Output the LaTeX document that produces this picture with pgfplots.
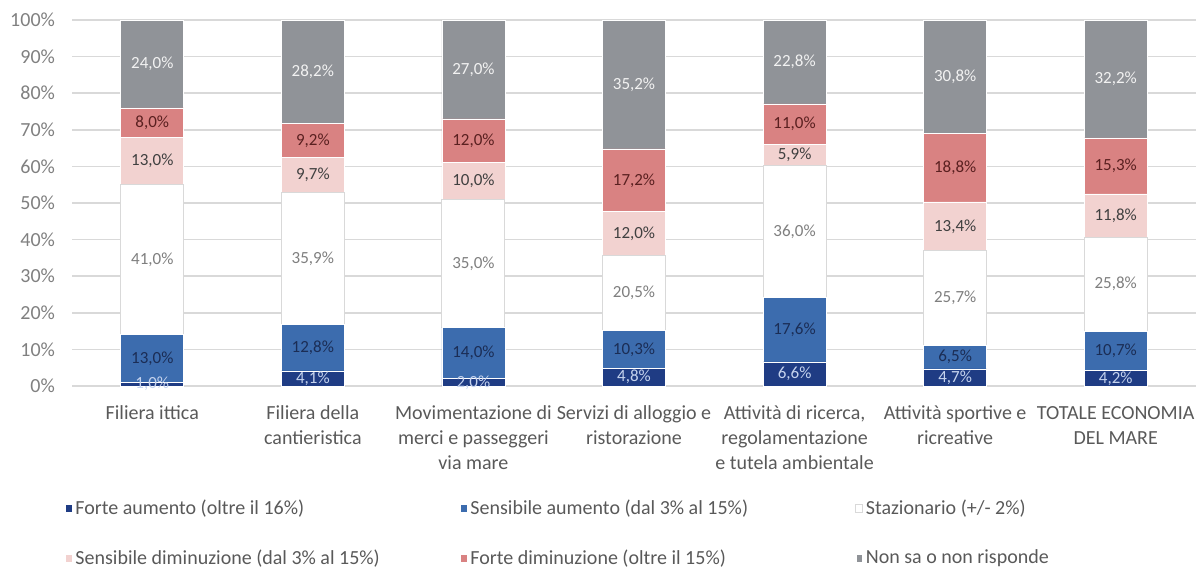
\documentclass[border=0pt]{standalone}
\usepackage{pgfplots}
\pgfplotsset{compat=1.18}
\usepackage{pgfplotstable}
\usepackage{fontspec}
\setmainfont{Carlito}
\definecolor{cNavy}{HTML}{1F3C84}
\definecolor{cBlue}{HTML}{3C6CAE}
\definecolor{cPink}{HTML}{F2D2D0}
\definecolor{cSalmon}{HTML}{D98282}
\definecolor{cGray}{HTML}{909398}
\definecolor{cGrid}{HTML}{D9D9D9}
\definecolor{cText}{HTML}{595959}
\definecolor{cTick}{HTML}{808080}
\definecolor{lA}{HTML}{C5D3EE}
\definecolor{lB}{HTML}{1B2D55}
\definecolor{lC}{HTML}{7F7F7F}
\definecolor{lD}{HTML}{404040}
\definecolor{lE}{HTML}{5A2020}
\definecolor{lF}{HTML}{F2F2F2}
\pgfplotstableread{
x a b c d e f
0 1.0 13.0 41.0 13.0 8.0 24.0
1 4.1 12.8 35.9 9.7 9.2 28.2
2 2.0 14.0 35.0 10.0 12.0 27.0
3 4.8 10.3 20.5 12.0 17.2 35.2
4 6.6 17.6 36.0 5.9 11.0 22.8
5 4.7 6.5 25.7 13.4 18.8 30.8
6 4.2 10.7 25.8 11.8 15.3 32.2
}\data
\newcommand{\legbox}[1]{\makebox[191pt][l]{#1}}
\begin{document}
\begin{tikzpicture}
\pgfplotsset{
  common/.style={
    scale only axis, width=562pt, height=183pt,
    at={(36pt,91.5pt)}, anchor=south west,
    xmin=-0.5, xmax=6.5, ymin=0, ymax=100,
  },
  lbl/.style={only marks, mark=none, point meta=explicit,
    nodes near coords={\pgfmathprintnumber[fixed,fixed zerofill,precision=1,use comma,assume math mode=true]{\pgfplotspointmeta}\%},
    every node near coord/.append style={anchor=center, inner sep=0pt, font=\fontsize{8.5}{10}\selectfont, text=#1}},
}
\begin{axis}[common,
  ybar stacked, bar width=31.5pt,
  axis line style={draw=none},
  ymajorgrids, grid style={cGrid, line width=0.8pt},
  major tick length=0pt,
  ytick={0,10,...,100},
  /pgf/number format/assume math mode=true,
  yticklabel={\pgfmathprintnumber{\tick}\%},
  yticklabel style={font=\fontsize{10}{12}\selectfont, text=cTick, xshift=-5pt},
  xtick={0,...,6},
  xticklabels={{Filiera ittica},{Filiera della\\cantieristica},{Movimentazione di\\merci e passeggeri\\via mare},{Servizi di alloggio e\\ristorazione},{Attività di ricerca,\\regolamentazione\\e tutela ambientale},{Attività sportive e\\ricreative},{TOTALE ECONOMIA\\DEL MARE}},
  xticklabel style={font=\fontsize{10}{12.5}\selectfont, text=cText, align=center, yshift=-6.5pt},
  legend columns=3,
  legend style={draw=none, fill=none, at={(-0.0115,-0.297)}, anchor=north west,
    font=\fontsize{10}{12}\selectfont, text=cText, row sep=15.5pt, column sep=0pt,
    nodes={inner xsep=1.5pt, inner ysep=0.3pt}},
  legend cell align=left,
  legend image code/.code={\draw[#1] (0pt,-1.8pt) rectangle (3.2pt,1.9pt);},
]
\addplot[fill=cNavy, draw=white, line width=0.3pt] table[x=x,y=a]{\data};
\addlegendentry{\legbox{Forte aumento (oltre il 16\%)}}
\addplot[fill=cBlue, draw=white, line width=0.3pt] table[x=x,y=b]{\data};
\addlegendentry{\legbox{Sensibile aumento (dal 3\% al 15\%)}}
\addplot[fill=white, draw=cGrid, line width=0.5pt] table[x=x,y=c]{\data};
\addlegendentry{\legbox{Stazionario (+/- 2\%)}}
\addplot[fill=cPink, draw=white, line width=0.3pt] table[x=x,y=d]{\data};
\addlegendentry{\legbox{Sensibile diminuzione (dal 3\% al 15\%)}}
\addplot[fill=cSalmon, draw=white, line width=0.3pt] table[x=x,y=e]{\data};
\addlegendentry{\legbox{Forte diminuzione (oltre il 15\%)}}
\addplot[fill=cGray, draw=white, line width=0.3pt] table[x=x,y=f]{\data};
\addlegendentry{\legbox{Non sa o non risponde}}
\end{axis}
\begin{axis}[common, hide axis, clip=false]
\addplot[lbl=lA] table[x=x, y expr=\thisrow{a}/2, meta=a]{\data};
\addplot[lbl=lB] table[x=x, y expr=\thisrow{a}+\thisrow{b}/2, meta=b]{\data};
\addplot[lbl=lC] table[x=x, y expr=\thisrow{a}+\thisrow{b}+\thisrow{c}/2, meta=c]{\data};
\addplot[lbl=lD] table[x=x, y expr=\thisrow{a}+\thisrow{b}+\thisrow{c}+\thisrow{d}/2, meta=d]{\data};
\addplot[lbl=lE] table[x=x, y expr=\thisrow{a}+\thisrow{b}+\thisrow{c}+\thisrow{d}+\thisrow{e}/2, meta=e]{\data};
\addplot[lbl=lF] table[x=x, y expr=\thisrow{a}+\thisrow{b}+\thisrow{c}+\thisrow{d}+\thisrow{e}+\thisrow{f}/2, meta=f]{\data};
\end{axis}
\pgfresetboundingbox
\path[use as bounding box] (0,0) rectangle (598pt,284.5pt);
\end{tikzpicture}
\end{document}
